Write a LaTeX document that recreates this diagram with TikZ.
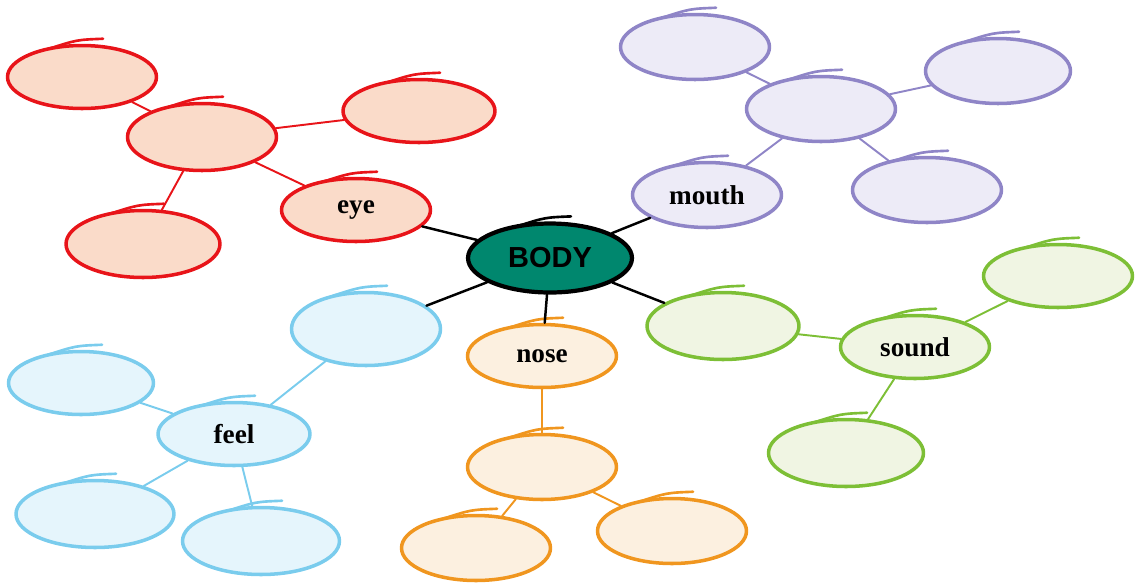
\documentclass[tikz,border=0pt]{standalone}
\usepackage{fontspec}
\setmainfont{Liberation Serif}
\newfontfamily\bodyfont{Liberation Sans}
\usetikzlibrary{shapes.geometric}
\definecolor{bodyteal}{rgb}{0,0.53,0.43}
\definecolor{eyeline}{rgb}{0.91,0.08,0.1}
\definecolor{eyefill}{rgb}{0.98,0.86,0.79}
\definecolor{mouthline}{rgb}{0.56,0.52,0.78}
\definecolor{mouthfill}{rgb}{0.93,0.92,0.97}
\definecolor{soundline}{rgb}{0.49,0.75,0.21}
\definecolor{soundfill}{rgb}{0.94,0.96,0.89}
\definecolor{noseline}{rgb}{0.94,0.59,0.12}
\definecolor{nosefill}{rgb}{0.99,0.94,0.88}
\definecolor{feelline}{rgb}{0.48,0.8,0.93}
\definecolor{feelfill}{rgb}{0.9,0.96,0.99}

\begin{document}
\begin{tikzpicture}[line cap=round,line join=round,x=0.02cm,y=-0.02cm,
    bubble/.style={ellipse,line width=2pt,inner sep=0pt,minimum width=2.98cm,minimum height=1.26cm,
      font=\fontsize{15.5}{18}\selectfont\bfseries},
    eyeb/.style={bubble,draw=eyeline,fill=eyefill},
    mouthb/.style={bubble,draw=mouthline,fill=mouthfill},
    soundb/.style={bubble,draw=soundline,fill=soundfill},
    noseb/.style={bubble,draw=noseline,fill=nosefill},
    feelb/.style={bubble,draw=feelline,fill=feelfill},
    link/.style={line width=1.1pt}]
  \useasboundingbox (0,0) rectangle (1136,583);
  % centre
  \node[bubble,draw=black,fill=bodyteal,line width=2.4pt,minimum width=3.28cm,minimum height=1.38cm,
    font=\bodyfont\fontsize{16.5}{18}\selectfont\bfseries] (body) at (550,258) {BODY};
  % eye
  \node[eyeb] (eye) at (356,210) {eye};
  \node[eyeb,minimum height=1.34cm] (eyehub) at (202,137) {};
  \node[eyeb] (eyetl) at (82,77) {};
  \node[eyeb,minimum width=3.04cm] (eyetr) at (419,111) {};
  \node[eyeb,minimum width=3.08cm,minimum height=1.34cm] (eyebl) at (143,244) {};
  % mouth
  \node[mouthb,minimum height=1.3cm] (mouth) at (707,195) {mouth};
  \node[mouthb,minimum height=1.3cm] (mouthhub) at (821,109) {};
  \node[mouthb,minimum height=1.3cm] (mouthtl) at (695,47) {};
  \node[mouthb,minimum width=2.9cm,minimum height=1.3cm] (mouthtr) at (998,71) {};
  \node[mouthb,minimum height=1.3cm] (mouthbr) at (927,190) {};
  % sound
  \node[soundb] (sound) at (915,347) {sound};
  \node[soundb,minimum width=3.04cm,minimum height=1.34cm] (soundl) at (723,326) {};
  \node[soundb] (soundtr) at (1058,276) {};
  \node[soundb,minimum width=3.1cm,minimum height=1.34cm] (soundbot) at (846,453) {};
  % nose
  \node[noseb] (nose) at (542,356) {nose};
  \node[noseb,minimum height=1.3cm] (nosehub) at (542,467) {};
  \node[noseb,minimum height=1.3cm] (nosebl) at (476,548) {};
  \node[noseb,minimum height=1.3cm] (nosebr) at (672,531) {};
  % feel
  \node[feelb,minimum width=3.04cm] (feel) at (234,434) {feel};
  \node[feelb,minimum height=1.46cm] (feeltop) at (366,329) {};
  \node[feelb,minimum width=2.9cm] (feell) at (81,383) {};
  \node[feelb,minimum width=3.16cm,minimum height=1.34cm] (feelbl) at (95,514) {};
  \node[feelb,minimum width=3.14cm,minimum height=1.34cm] (feelbr) at (261,541) {};
  % pen overshoot on top of each bubble
  \foreach \n/\c in {body/black,eye/eyeline,eyehub/eyeline,eyetl/eyeline,eyetr/eyeline,eyebl/eyeline,
      mouth/mouthline,mouthhub/mouthline,mouthtl/mouthline,mouthtr/mouthline,mouthbr/mouthline,
      sound/soundline,soundl/soundline,soundtr/soundline,soundbot/soundline,
      nose/noseline,nosehub/noseline,nosebl/noseline,nosebr/noseline,
      feel/feelline,feeltop/feelline,feell/feelline,feelbl/feelline,feelbr/feelline}
    \draw[\c,line width=1.5pt] ([shift={(-0.66cm,-0.1cm)}]\n.north) .. controls ([shift={(-0.1cm,0.08cm)}]\n.north) .. ([shift={(0.42cm,0.1cm)}]\n.north);
  % links from the centre
  \draw[link,line width=1.4pt] (body) -- (eye);
  \draw[link,line width=1.4pt] (body) -- (mouth);
  \draw[link,line width=1.4pt] (body) -- (nose);
  \draw[link,line width=1.4pt] (body) -- (feeltop);
  \draw[link,line width=1.4pt] (body) -- (soundl);
  % links in each group
  \draw[link,eyeline] (eye) -- (eyehub);
  \foreach \m in {eyetl,eyetr,eyebl} \draw[link,eyeline] (eyehub) -- (\m);
  \draw[link,mouthline] (mouth) -- (mouthhub);
  \foreach \m in {mouthtl,mouthtr,mouthbr} \draw[link,mouthline] (mouthhub) -- (\m);
  \draw[link,soundline] (soundl) -- (sound);
  \foreach \m in {soundtr,soundbot} \draw[link,soundline] (sound) -- (\m);
  \draw[link,noseline] (nose) -- (nosehub);
  \foreach \m in {nosebl,nosebr} \draw[link,noseline] (nosehub) -- (\m);
  \draw[link,feelline] (feeltop) -- (feel);
  \foreach \m in {feell,feelbl,feelbr} \draw[link,feelline] (feel) -- (\m);
\end{tikzpicture}
\end{document}
